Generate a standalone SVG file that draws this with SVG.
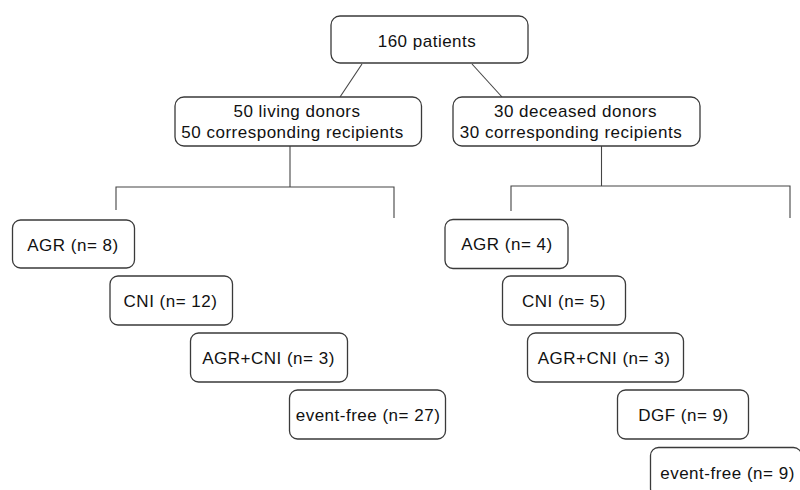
<svg xmlns="http://www.w3.org/2000/svg" width="800" height="490" viewBox="0 0 800 490">
<style>
.box{fill:#fff;stroke:#3a3a3a;stroke-width:1.3}
.lbl{font-family:"Liberation Sans",Arial,sans-serif;font-size:17px;letter-spacing:0.5px;fill:#111;text-anchor:middle}
.con{stroke:#444;stroke-width:1.1;fill:none}
</style>
<rect width="800" height="490" fill="#fff"/>
<g id="connectors">
<line class="con" x1="362" y1="64" x2="340" y2="97"/>
<line class="con" x1="472" y1="64" x2="502" y2="97"/>
<polyline class="con" points="290,146 290,187"/>
<polyline class="con" points="116,210 116,187 394,187 394,218"/>
<polyline class="con" points="601.5,146 601.5,186"/>
<polyline class="con" points="511,211 511,186 790,186 790,218"/>
</g>
<g id="n_patients"><rect class="box" x="331" y="16" width="197" height="47" rx="9"/><text class="lbl" x="427" y="47">160 patients</text></g>
<g id="n_living"><rect class="box" x="175" y="97" width="246.5" height="49" rx="9"/><text class="lbl" x="297" y="117">50 living donors</text><text class="lbl" x="292.5" y="138">50 corresponding recipients</text></g>
<g id="n_deceased"><rect class="box" x="453" y="97" width="247" height="49" rx="9"/><text class="lbl" x="575.5" y="117">30 deceased donors</text><text class="lbl" x="571" y="138">30 corresponding recipients</text></g>
<g id="l_agr"><rect class="box" x="12.5" y="220" width="122" height="48" rx="8"/><text class="lbl" x="73" y="250.5">AGR (n= 8)</text></g>
<g id="l_cni"><rect class="box" x="110" y="276" width="122.5" height="49" rx="8"/><text class="lbl" x="170.5" y="306.5">CNI (n= 12)</text></g>
<g id="l_agrcni"><rect class="box" x="190.5" y="333" width="157" height="49" rx="8"/><text class="lbl" x="268.5" y="364">AGR+CNI (n= 3)</text></g>
<g id="l_free"><rect class="box" x="289.5" y="390" width="156" height="49" rx="8"/><text class="lbl" x="368" y="420.5">event-free (n= 27)</text></g>
<g id="r_agr"><rect class="box" x="445" y="219.5" width="123" height="49" rx="8"/><text class="lbl" x="507" y="250">AGR (n= 4)</text></g>
<g id="r_cni"><rect class="box" x="502.5" y="276" width="123" height="49" rx="8"/><text class="lbl" x="564" y="306.5">CNI (n= 5)</text></g>
<g id="r_agrcni"><rect class="box" x="527.5" y="333" width="156" height="49" rx="8"/><text class="lbl" x="604" y="364">AGR+CNI (n= 3)</text></g>
<g id="r_dgf"><rect class="box" x="617.5" y="390" width="131" height="49" rx="8"/><text class="lbl" x="683.5" y="420.5">DGF (n= 9)</text></g>
<g id="r_free"><rect class="box" x="650.5" y="447.5" width="151" height="49" rx="8"/><text class="lbl" x="727.5" y="478.5">event-free (n= 9)</text></g>
</svg>
